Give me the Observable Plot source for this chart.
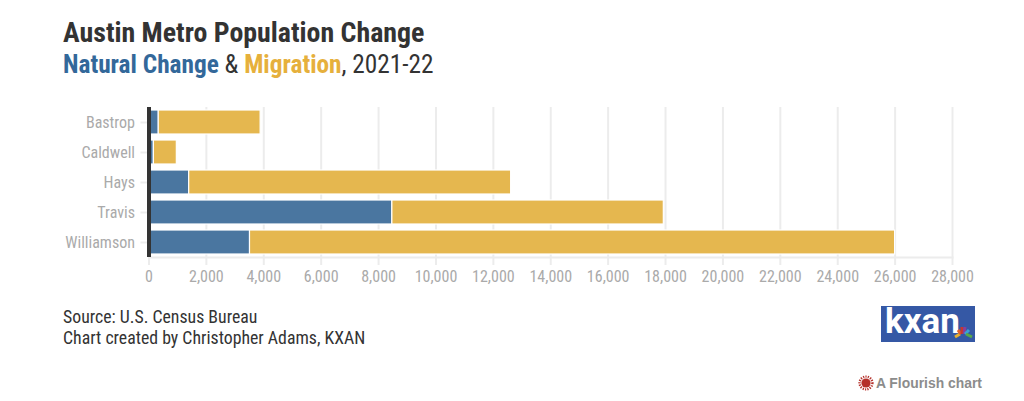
<!DOCTYPE html>
<html><head><meta charset="utf-8">
<script src="https://cdn.jsdelivr.net/npm/d3@7"></script>
<script src="https://cdn.jsdelivr.net/npm/@observablehq/plot@0.6"></script>
<style>
html,body{margin:0;padding:0;background:#fff;width:1024px;height:401px;overflow:hidden}
body{position:relative;font-family:Roboto,sans-serif;font-stretch:75%}
.t{position:absolute;white-space:nowrap;color:#333}
#plot{position:absolute;left:0;top:96px}
#plot svg{font-family:Roboto,sans-serif;font-stretch:75%}
</style></head><body>
<div class="t" style="left:63px;top:16px;font-size:27.9px;font-weight:700;line-height:34px">Austin Metro Population Change</div>
<div class="t" style="left:63px;top:49px;font-size:25.3px;line-height:32px"><b style="color:#33689a">Natural Change</b> &amp; <b style="color:#e6b03c">Migration</b>, 2021-22</div>
<div id="plot"></div>
<div class="t" style="left:63px;top:306px;font-size:17.8px;line-height:21px;color:#333">Source: U.S. Census Bureau<br>Chart created by Christopher Adams, KXAN</div>
<div style="position:absolute;left:881px;top:306px;width:94px;height:36px;background:#3558a5"></div>
<div class="t" style="left:885px;top:304px;color:#fff;font:700 35px/36px Roboto,sans-serif;font-stretch:normal;letter-spacing:0">kxan</div>
<svg style="position:absolute;left:952px;top:325px" width="22" height="14" viewBox="0 0 22 14"><g fill="none" stroke-width="3"><path d="M3 12L8 9" stroke="#e8b030"/><path d="M6 5L9 9" stroke="#e2622a"/><path d="M10 2L10 9" stroke="#c8382c"/><path d="M13 2L12 9" stroke="#8a3f9a"/><path d="M17 5L13 9" stroke="#3aa0d8"/><path d="M20 12L14 9" stroke="#58a848"/></g></svg>
<svg style="position:absolute;left:858px;top:375px" width="16" height="16" viewBox="-8 -8 16 16"><circle r="4.6" fill="#b5302a"/><circle r="6.4" fill="none" stroke="#b5302a" stroke-width="2.4" stroke-dasharray="1.2 1.2"/></svg>
<div class="t" style="left:876px;top:375px;font:700 13.9px/16px 'Liberation Sans',sans-serif;font-stretch:normal;color:#8c8c8c">A Flourish chart</div>
<script>
const counties=["Bastrop","Caldwell","Hays","Travis","Williamson"];
const naturalChange=[340,170,1400,8480,3520];
const migration=[3550,800,11220,9460,22480];
const xTicks=d3.range(0,28001,2000);
const rows=[
  ...counties.map((c,i)=>({county:c,series:"Natural Change",value:naturalChange[i]})),
  ...counties.map((c,i)=>({county:c,series:"Migration",value:migration[i]}))
];
const chart=Plot.plot({
  width:1024,height:191,
  marginLeft:148.5,marginRight:72,marginTop:11,marginBottom:30,
  style:{background:"transparent",overflow:"visible"},
  x:{domain:[0,28000],label:null},
  y:{domain:counties,label:null,paddingInner:0.2,paddingOuter:0.1},
  color:{domain:["Natural Change","Migration"],range:["#4a76a0","#e5b74f"]},
  marks:[
    Plot.ruleX(xTicks,{stroke:"#ececec",strokeWidth:2}),
    Plot.ruleY(counties,{y:d=>d,x1:-280,x2:0,stroke:"#ececec",strokeWidth:2}),
    Plot.frame({anchor:"bottom",stroke:"#ececec",strokeWidth:2}),
    Plot.barX(rows,Plot.stackX({x:"value",y:"county",fill:"series",order:["Natural Change","Migration"],stroke:"#fff",strokeWidth:1.2})),
    Plot.ruleX([0],{stroke:"#333",strokeWidth:4}),
    Plot.axisX({ticks:xTicks,tickFormat:d3.format(","),tickSize:8,tickPadding:5,stroke:"#ececec",strokeWidth:2,fill:"#aaa",fontSize:16,label:null}),
    Plot.axisY({tickSize:0,tickPadding:14,fill:"#aaa",fontSize:16,label:null})
  ]
});
document.getElementById("plot").appendChild(chart);
</script>
</body></html>
